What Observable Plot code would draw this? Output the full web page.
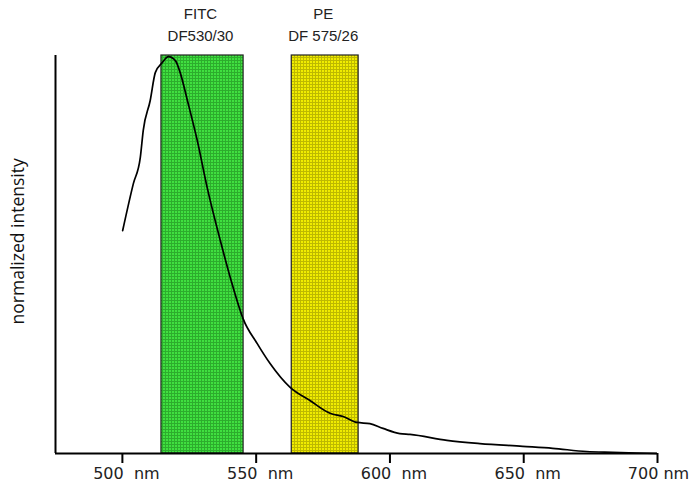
<!DOCTYPE html>
<html>
<head>
<meta charset="utf-8">
<script src="https://cdn.jsdelivr.net/npm/d3@7"></script>
<script src="https://cdn.jsdelivr.net/npm/@observablehq/plot@0.6"></script>
<style>
  html, body { margin: 0; padding: 0; background: #fff; }
  #chart svg { display: block; }
</style>
</head>
<body>
<div id="chart"></div>
<script>
// Emission spectrum
const wavelength = [500.1, 504.1, 506.7, 507.8, 510.4, 512.3, 514.9, 517.2, 519.8, 521.6, 524.3, 528.0, 531.7, 536.6, 541.4, 545.1, 550.4, 555.2, 562.7, 570.1, 577.6, 582.5, 587.7, 592.5, 597.4, 603.7, 607.5, 621.3, 633.6, 649.6, 660.8, 673.5, 683.2, 699.6];
const intensity  = [0.560, 0.678, 0.744, 0.812, 0.887, 0.957, 0.982, 0.997, 0.987, 0.957, 0.887, 0.786, 0.668, 0.535, 0.417, 0.339, 0.276, 0.226, 0.166, 0.133, 0.101, 0.093, 0.078, 0.075, 0.063, 0.050, 0.048, 0.033, 0.025, 0.018, 0.013, 0.005, 0.003, 0.000];

// Filter bands
const filterNames  = ["FITC", "PE"];
const filterLabels = ["DF530/30", "DF 575/26"];
const filterStart  = [514.6, 563.3];
const filterEnd    = [545.3, 588.3];
const filterColors = ["#40e040", "#f0ec00"];
const filterShades = ["#1a7a1a", "#8a8400"];

// Axis ticks
const xTicks = [500, 550, 600, 650, 700];
const xTickLabels = ["500\u00a0\u00a0nm", "550\u00a0\u00a0nm", "600\u00a0\u00a0nm", "650\u00a0\u00a0nm", "700\u00a0nm"];

const spectrum = wavelength.map((w, i) => ({w, v: intensity[i]}));
const filters = filterNames.map((n, i) => ({
  name: n, label: filterLabels[i], x1: filterStart[i], x2: filterEnd[i], color: filterColors[i],
  xc: (filterStart[i] + filterEnd[i]) / 2, y1: 0, y2: 1
}));
const tickData = xTicks.map((t, i) => ({t, label: xTickLabels[i]}));
const tickFont = "'DejaVu Sans', sans-serif";

const chart = Plot.plot({
  width: 690,
  height: 490,
  marginLeft: 55,
  marginRight: 33,
  marginTop: 55,
  marginBottom: 37,
  style: {fontFamily: "'DejaVu Sans', sans-serif", background: "#fff", overflow: "visible"},
  x: {type: "linear", domain: [475, 700], axis: null},
  y: {type: "linear", domain: [0, 1], axis: null},
  marks: [
    Plot.rect(filters, {x1: "x1", x2: "x2", y1: "y1", y2: "y2", fill: "color", stroke: "#222", strokeWidth: 1.2}),
    Plot.line(spectrum, {x: "w", y: "v", stroke: "#000", strokeWidth: 1.7, curve: "monotone-x"}),
    Plot.ruleX([475], {stroke: "#000", strokeWidth: 2}),
    Plot.ruleY([0], {stroke: "#000", strokeWidth: 2}),
    Plot.axisX({ticks: xTicks, tickSize: 10, tickFormat: () => "", stroke: "#000", strokeWidth: 2}),
    Plot.text(tickData.slice(0, 4), {x: "t", text: "label", frameAnchor: "bottom", lineAnchor: "middle", dy: 20, dx: 4, fontSize: 16, fontFamily: tickFont, fill: "#222"}),
    Plot.text(tickData.slice(4), {x: "t", text: "label", frameAnchor: "bottom", lineAnchor: "middle", dy: 20, dx: 1, fontSize: 16, fontFamily: tickFont, fill: "#222"}),
    Plot.text(filters, {x: "xc", y: "y2", text: "name", dy: -41.5, dx: -2, fontSize: 15, fontFamily: "'Liberation Sans', Arial, sans-serif", fill: "#222"}),
    Plot.text(filters, {x: "xc", y: "y2", text: "label", dy: -19.5, dx: -2, fontSize: 15, fontFamily: "'Liberation Sans', Arial, sans-serif", fill: "#222"}),
    Plot.text(["normalized intensity"], {x: () => 475, y: () => 0.533, dx: -37, rotate: -90, fontSize: 17.5, fontFamily: "'Open Sans', sans-serif", fill: "#111"})
  ]
});

// Dithered texture for the filter bands (visual style of the reference)
const ns = "http://www.w3.org/2000/svg";
const defs = document.createElementNS(ns, "defs");
filterColors.forEach((c, i) => {
  const p = document.createElementNS(ns, "pattern");
  p.setAttribute("id", "band-pat-" + i);
  p.setAttribute("patternUnits", "userSpaceOnUse");
  p.setAttribute("width", "3");
  p.setAttribute("height", "3");
  const mk = (x, y, w, h, f, o) => {
    const r = document.createElementNS(ns, "rect");
    r.setAttribute("x", x); r.setAttribute("y", y); r.setAttribute("width", w); r.setAttribute("height", h);
    r.setAttribute("fill", f); if (o != null) r.setAttribute("fill-opacity", o);
    p.appendChild(r);
  };
  mk(0, 0, 3, 3, c);
  mk(0, 0, 3, 1, filterShades[i], 0.5);
  mk(0, 1, 1, 2, filterShades[i], 0.5);
  defs.appendChild(p);
});
chart.insertBefore(defs, chart.firstChild);
const rectGroup = chart.querySelector('g[aria-label="rect"]');
if (rectGroup) rectGroup.querySelectorAll("rect").forEach((r, i) => r.setAttribute("fill", `url(#band-pat-${i})`));

document.getElementById("chart").appendChild(chart);
</script>
</body>
</html>
